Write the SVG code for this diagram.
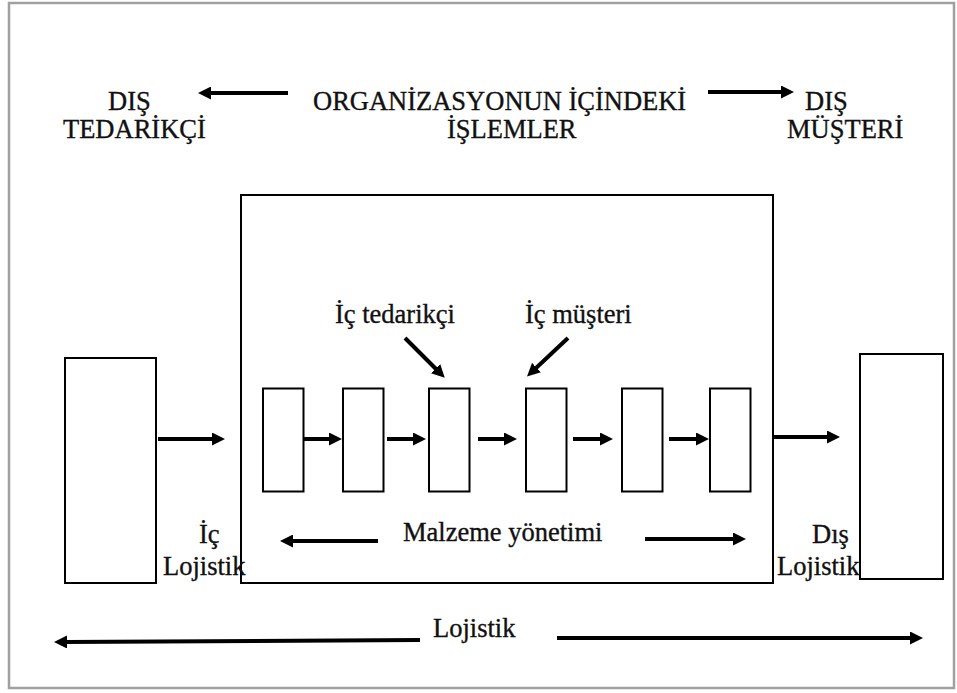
<svg xmlns="http://www.w3.org/2000/svg" width="957" height="693" viewBox="0 0 957 693">
<style>
text{font-family:"Liberation Serif","Times New Roman",serif;font-size:26.5px;fill:#111;stroke:#111;stroke-width:0.35}
.box{fill:#fff;stroke:#000;stroke-width:2}
.arr{stroke:#000;stroke-width:4;fill:none;marker-end:url(#ah)}
</style>
<defs>
<marker id="ah" markerUnits="userSpaceOnUse" markerWidth="13" markerHeight="13" viewBox="0 0 13 13" refX="2" refY="6.5" orient="auto">
<path d="M0,0 L13,6.5 L0,13 Z" fill="#000"/>
</marker>
</defs>
<rect x="9" y="3" width="945" height="685" fill="#fff" stroke="#a0a0a0" stroke-width="2.5"/>
<g id="dis-tedarikci"><text x="108" y="110">DIŞ</text><text x="63" y="138">TEDARİKÇİ</text></g>
<g id="organizasyon"><text x="313" y="110">ORGANİZASYONUN İÇİNDEKİ</text><text x="447" y="138">İŞLEMLER</text></g>
<g id="dis-musteri"><text x="805" y="110">DIŞ</text><text x="787" y="138">MÜŞTERİ</text></g>
<g id="organizasyon-kutu"><rect class="box" x="241" y="195" width="532" height="388"/></g>
<g id="tedarikci-kutu"><rect class="box" x="65" y="358" width="91" height="225"/></g>
<g id="musteri-kutu"><rect class="box" x="860" y="354" width="83" height="225"/></g>
<g id="surec1"><rect class="box" x="263" y="388.5" width="40.5" height="103"/></g>
<g id="surec2"><rect class="box" x="343" y="388.5" width="40.5" height="103"/></g>
<g id="surec3"><rect class="box" x="429" y="388.5" width="40.5" height="103"/></g>
<g id="surec4"><rect class="box" x="526" y="388.5" width="40.5" height="103"/></g>
<g id="surec5"><rect class="box" x="622" y="388.5" width="40.5" height="103"/></g>
<g id="surec6"><rect class="box" x="710" y="388.5" width="40.5" height="103"/></g>
<g id="ic-tedarikci-lbl"><text x="335" y="323">İç tedarikçi</text></g>
<g id="ic-musteri-lbl"><text x="525" y="323">İç müşteri</text></g>
<g id="malzeme-lbl"><text x="403" y="541">Malzeme yönetimi</text></g>
<g id="ic-lojistik-lbl"><text x="199" y="543">İç</text><text x="163" y="575">Lojistik</text></g>
<g id="dis-lojistik-lbl"><text x="812" y="543">Dış</text><text x="777" y="575">Lojistik</text></g>
<g id="lojistik-lbl"><text x="433" y="637">Lojistik</text></g>
<g id="connectors">
<line class="arr" x1="288" y1="93" x2="209" y2="93"/>
<line class="arr" x1="708" y1="92" x2="783" y2="92"/>
<line class="arr" x1="158" y1="439" x2="214" y2="439"/>
<line class="arr" x1="773" y1="437" x2="829" y2="437"/>
<line class="arr" x1="303.5" y1="439" x2="331" y2="439"/>
<line class="arr" x1="387" y1="439" x2="415" y2="439"/>
<line class="arr" x1="478" y1="439" x2="506" y2="439"/>
<line class="arr" x1="573" y1="439" x2="602" y2="439"/>
<line class="arr" x1="669" y1="439" x2="698" y2="439"/>
<line class="arr" x1="405" y1="338" x2="437" y2="370"/>
<line class="arr" x1="568" y1="338" x2="535" y2="369"/>
<line class="arr" x1="378" y1="541" x2="291" y2="541"/>
<line class="arr" x1="645" y1="539" x2="735" y2="539"/>
<line class="arr" x1="420" y1="640" x2="65" y2="642"/>
<line class="arr" x1="557" y1="638" x2="912" y2="638"/>
</g>
</svg>
